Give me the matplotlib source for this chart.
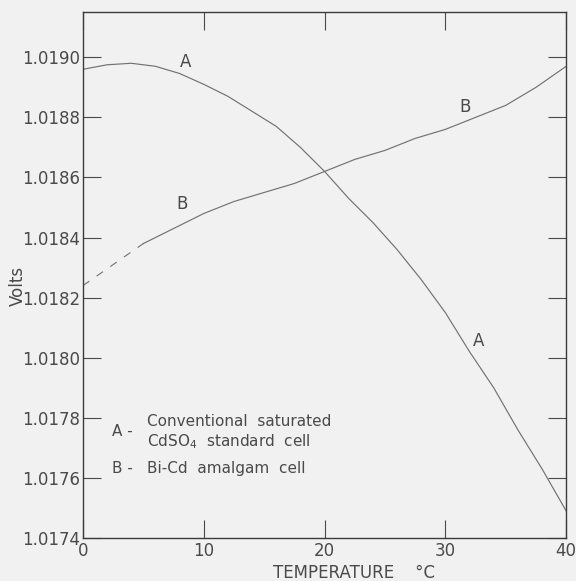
import numpy as np
import matplotlib
matplotlib.use("Agg")
import matplotlib.pyplot as plt

# curve A: conventional saturated CdSO4 standard cell
temp_a = [0, 2, 4, 6, 8, 10, 12, 14, 16, 18, 20,
          22, 24, 26, 28, 30, 32, 34, 36, 38, 40]
volts_a = [1.01896, 1.018975, 1.01898, 1.01897, 1.018946, 1.01891, 1.01887,
           1.01882, 1.01877, 1.01870, 1.01862, 1.01853, 1.01845, 1.01836,
           1.01826, 1.01815, 1.01802, 1.01790, 1.01776, 1.01763, 1.01749]

# curve B: Bi-Cd amalgam cell (dashed below 5 degC)
temp_b = [0, 2.5, 5, 7.5, 10, 12.5, 15, 17.5, 20, 22.5, 25,
          27.5, 30, 32.5, 35, 37.5, 40]
volts_b = [1.01824, 1.01831, 1.01838, 1.01843, 1.01848, 1.01852, 1.01855,
           1.01858, 1.01862, 1.01866, 1.01869, 1.01873, 1.01876, 1.01880,
           1.01884, 1.01890, 1.01897]
b_dash_end = 3  # first three points are extrapolated

x_ticks = [0, 10, 20, 30, 40]
y_ticks = [1.0174, 1.0176, 1.0178, 1.0180, 1.0182, 1.0184, 1.0186, 1.0188, 1.0190]

ink = '#4a4a4a'
line_col = '#727272'

fig = plt.figure(figsize=(5.76, 5.81), dpi=100)
fig.patch.set_facecolor('#f1f1f1')
ax = fig.add_axes([0.144, 0.074, 0.839, 0.905])
ax.set_facecolor('#f1f1f1')

ax.plot(temp_a, volts_a, '-', color=line_col, lw=0.85)
ax.plot(temp_b[b_dash_end - 1:], volts_b[b_dash_end - 1:], '-', color=line_col, lw=0.85)
ax.plot(temp_b[:b_dash_end], volts_b[:b_dash_end], color=line_col, lw=0.8,
        linestyle=(0, (7, 8)))

ax.set_xlim(0, 40)
ax.set_ylim(1.0174, 1.01915)
ax.set_xticks(x_ticks)
ax.set_yticks(y_ticks)
ax.set_yticklabels(['%.4f' % v for v in y_ticks])
ax.tick_params(direction='in', length=13, width=0.8, color=ink,
               labelcolor=ink, labelsize=12, top=True, right=True)
ax.tick_params(axis='y', pad=2)
ax.tick_params(axis='x', pad=3)
for s in ax.spines.values():
    s.set_color('#3a3a3a')
    s.set_linewidth(1.0)

ax.set_ylabel('Volts', color=ink, fontsize=12)
ax.yaxis.set_label_coords(-0.117, 0.48)
ax.set_xlabel('TEMPERATURE    °C', color=ink, fontsize=12)
ax.xaxis.set_label_coords(0.56, -0.05)

# curve labels
ax.text(8.5, 1.018983, 'A', color=ink, fontsize=12, ha='center', va='center')
ax.text(32.75, 1.018057, 'A', color=ink, fontsize=12, ha='center', va='center')
ax.text(8.2, 1.018513, 'B', color=ink, fontsize=12, ha='center', va='center')
ax.text(31.6, 1.018833, 'B', color=ink, fontsize=12, ha='center', va='center')

# key
ax.text(3.3, 1.017755, 'A -', color=ink, fontsize=11, ha='center', va='center')
ax.text(5.3, 1.017787, 'Conventional  saturated', color=ink, fontsize=11, va='center')
ax.text(5.3, 1.01772, 'CdSO$_4$  standard  cell', color=ink, fontsize=11, va='center')
ax.text(3.3, 1.01763, 'B -', color=ink, fontsize=11, ha='center', va='center')
ax.text(5.3, 1.01763, 'Bi-Cd  amalgam  cell', color=ink, fontsize=11, va='center')

fig.savefig('out.png', dpi=100, facecolor=fig.get_facecolor())
